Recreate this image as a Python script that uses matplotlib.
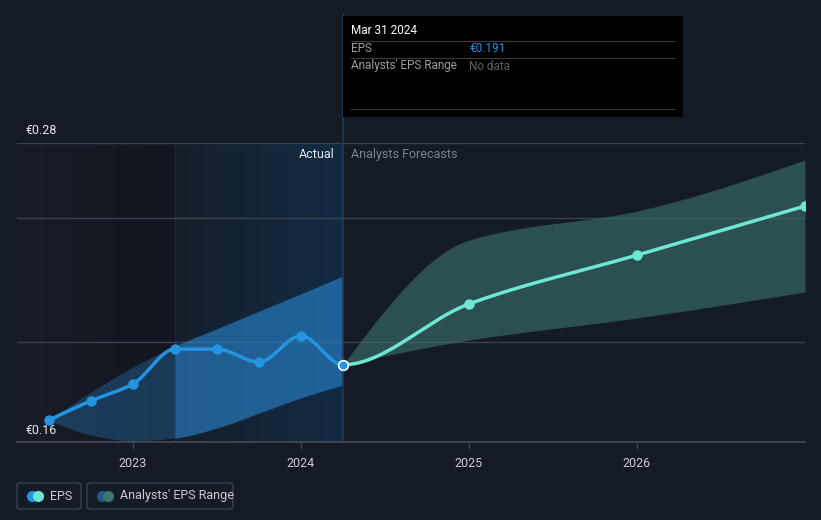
import numpy as np
import matplotlib
matplotlib.use("Agg")
import matplotlib.pyplot as plt
from matplotlib.patches import FancyBboxPatch, Rectangle
from matplotlib.lines import Line2D
from matplotlib.colors import LinearSegmentedColormap

plt.rcParams["font.family"] = ["Roboto", "DejaVu Sans"]

# data (decimal years)
eps_x = [2022.5, 2022.75, 2023.0, 2023.25, 2023.5, 2023.75, 2024.0, 2024.25]
eps_y = [0.1688, 0.1765, 0.1833, 0.1973, 0.1973, 0.1921, 0.2026, 0.191]

past_hi = [0.1688, 0.1800, 0.1900, 0.1985, 0.2055, 0.2125, 0.2195, 0.2266]
past_lo = [0.1688, 0.1628, 0.1604, 0.1616, 0.1656, 0.1716, 0.1777, 0.1829]

fc_x = [2024.25, 2025.0, 2026.0, 2027.0]
fc_y = [0.191, 0.2154, 0.2350, 0.2547]
fc_hi = [0.191, 0.2410, 0.2527, 0.2732]
fc_lo = [0.191, 0.2009, 0.2098, 0.2202]

year_ticks = [2023, 2024, 2025, 2026]
grid_vals = [0.20, 0.25, 0.28]
y_min, y_max = 0.16, 0.28

BG = "#151b26"
BLUE = "#2394df"
TEAL = "#6ee7d2"


def monotone(x, y, n=400):
    # Fritsch-Carlson monotone cubic, used only to draw smooth curves
    x = np.asarray(x, float)
    y = np.asarray(y, float)
    h = np.diff(x)
    d = np.diff(y) / h
    m = np.zeros_like(y)
    for i in range(1, len(y) - 1):
        if d[i - 1] * d[i] <= 0:
            m[i] = 0
        else:
            w1 = 2 * h[i] + h[i - 1]
            w2 = h[i] + 2 * h[i - 1]
            m[i] = (w1 + w2) / (w1 / d[i - 1] + w2 / d[i])
    m[0] = (3 * d[0] - m[1]) / 2
    m[-1] = (3 * d[-1] - m[-2]) / 2
    xs = np.linspace(x[0], x[-1], n)
    idx = np.clip(np.searchsorted(x, xs) - 1, 0, len(x) - 2)
    t = (xs - x[idx]) / h[idx]
    h00 = 2 * t**3 - 3 * t**2 + 1
    h10 = t**3 - 2 * t**2 + t
    h01 = -2 * t**3 + 3 * t**2
    h11 = t**3 - t**2
    ys = h00 * y[idx] + h10 * h[idx] * m[idx] + h01 * y[idx + 1] + h11 * h[idx] * m[idx + 1]
    return xs, ys


W, H = 821, 520
fig = plt.figure(figsize=(W / 100, H / 100), dpi=100)
fig.patch.set_facecolor(BG)

ax = fig.add_axes([17 / W, (H - 442) / H, 788 / W, (442 - 143) / H])
ax.set_facecolor(BG)
ax.set_xlim(2022.31, 2027.0)
ax.set_ylim(y_min, y_max)
for s in ax.spines.values():
    s.set_visible(False)

# background shading: darker past area, highlighted last year
grad = np.linspace(0, 1, 512).reshape(1, -1)
dark = LinearSegmentedColormap.from_list("d", ["#171c26", "#12161e"])
hl = LinearSegmentedColormap.from_list("h", ["#161f2b", "#112b44"])
ax.imshow(grad, cmap=dark, extent=[2022.31, 2023.25, y_min, y_max], aspect="auto",
          zorder=0, interpolation="bilinear")
ax.imshow(grad, cmap=hl, extent=[2023.25, 2024.25, y_min, y_max], aspect="auto",
          zorder=0, interpolation="bilinear")
ax.axvline(2023.25, color="#18293d", lw=1, zorder=1)

# gridlines
for g in grid_vals:
    ax.axhline(g, color="#3a414c", lw=1, zorder=1)
ax.axhline(y_min, color="#454c57", lw=1.2, zorder=5, clip_on=False)

# past range band
bx, bhi = monotone(eps_x, past_hi)
_, blo = monotone(eps_x, past_lo)
ax.fill_between(bx, blo, bhi, where=bx <= 2023.25, color="#2a7cc4", alpha=0.35, lw=0, zorder=2)
ax.fill_between(bx, blo, bhi, where=bx >= 2023.25, color="#2a8ad8", alpha=0.58, lw=0, zorder=2)

# forecast band
fx, fhi = monotone(fc_x, fc_hi)
_, flo = monotone(fc_x, fc_lo)
ax.fill_between(fx, flo, fhi, color="#3a7370", alpha=0.6, lw=0, zorder=2)

# tooltip vertical line
ax.plot([2024.25, 2024.25], [y_min, 0.3313], color="#1d3957", lw=1.2, zorder=3, clip_on=False)

# EPS line: smoothed over actual + forecast, then split at the last actual
all_x = eps_x + fc_x[1:]
all_y = eps_y + fc_y[1:]
lx, ly = monotone(all_x, all_y, n=1200)
past = lx <= eps_x[-1]
ax.plot(lx[past], ly[past], color=BLUE, lw=2.5, zorder=4, solid_capstyle="round")
ax.plot(lx[~past], ly[~past], color=TEAL, lw=2.5, zorder=4, solid_capstyle="round")
ax.plot(eps_x[:-1], eps_y[:-1], "o", color=BLUE, ms=6.5, zorder=5)
ax.plot(eps_x[-1], eps_y[-1], "o", color=BLUE, ms=7, mec="white", mew=1.2, zorder=7)
ax.plot(fc_x[1:], fc_y[1:], "o", color=TEAL, ms=6.5, zorder=5)

# x ticks
ax.set_xticks(year_ticks)
ax.set_xticklabels([str(y) for y in year_ticks], color="#c9ccd1", fontsize=9)
ax.tick_params(axis="x", length=5, color="#454c57", pad=6)
ax.set_yticks([])

# y labels
fig.text(25 / W, 1 - 130 / H, "€0.28", color="#e6e7ea", fontsize=9, va="center")
fig.text(25 / W, 1 - 430 / H, "€0.16", color="#e6e7ea", fontsize=9, va="center")

ax.text(2024.2, 0.2755, "Actual", color="#e6e7ea", fontsize=9, ha="right", va="center", zorder=6)
ax.text(2024.3, 0.2755, "Analysts Forecasts", color="#7d838c", fontsize=9, ha="left", va="center", zorder=6)

# tooltip box
fig.patches.append(Rectangle((343 / W, 1 - 117 / H), 340 / W, 101 / H, transform=fig.transFigure,
                             facecolor="black", edgecolor="none", zorder=10))
for yy in [41, 58, 109]:
    fig.lines.append(Line2D([351 / W, 675 / W], [1 - yy / H, 1 - yy / H], transform=fig.transFigure,
                            color="#3a3a3a", lw=0.8, zorder=11))
fig.text(351 / W, 1 - 31 / H, "Mar 31 2024", color="white", fontsize=8.5, va="center", zorder=12)
fig.text(351 / W, 1 - 49 / H, "EPS", color="#9a9ea5", fontsize=8.5, va="center", zorder=12)
fig.text(469 / W, 1 - 49 / H, "€0.191", color=BLUE, fontsize=8.5, va="center", zorder=12)
fig.text(351 / W, 1 - 66 / H, "Analysts' EPS Range", color="#9a9ea5", fontsize=8.5, va="center", zorder=12)
fig.text(469 / W, 1 - 66 / H, "No data", color="#5d6168", fontsize=8.5, va="center", zorder=12)


# legend
def legend_box(x0, x1, label, c1, c2):
    fig.patches.append(FancyBboxPatch((x0 / W, 1 - 509 / H), (x1 - x0) / W, 26 / H,
                                      boxstyle="round,pad=0,rounding_size=0.004", transform=fig.transFigure,
                                      facecolor="none", edgecolor="#3b414c", lw=1))
    fig.lines.append(Line2D([(x0 + 15) / W], [1 - 496 / H], marker="o", ms=7, color=c1,
                            transform=fig.transFigure, lw=0))
    fig.lines.append(Line2D([(x0 + 21) / W], [1 - 496 / H], marker="o", ms=7, color=c2,
                            transform=fig.transFigure, lw=0))
    fig.text((x0 + 33) / W, 1 - 496 / H, label, color="#c9ccd1", fontsize=9, va="center")


legend_box(17, 81, "EPS", BLUE, TEAL)
legend_box(87, 233, "Analysts' EPS Range", "#1f5a86", "#3b7873")

fig.savefig("out.png", dpi=100, facecolor=BG)
